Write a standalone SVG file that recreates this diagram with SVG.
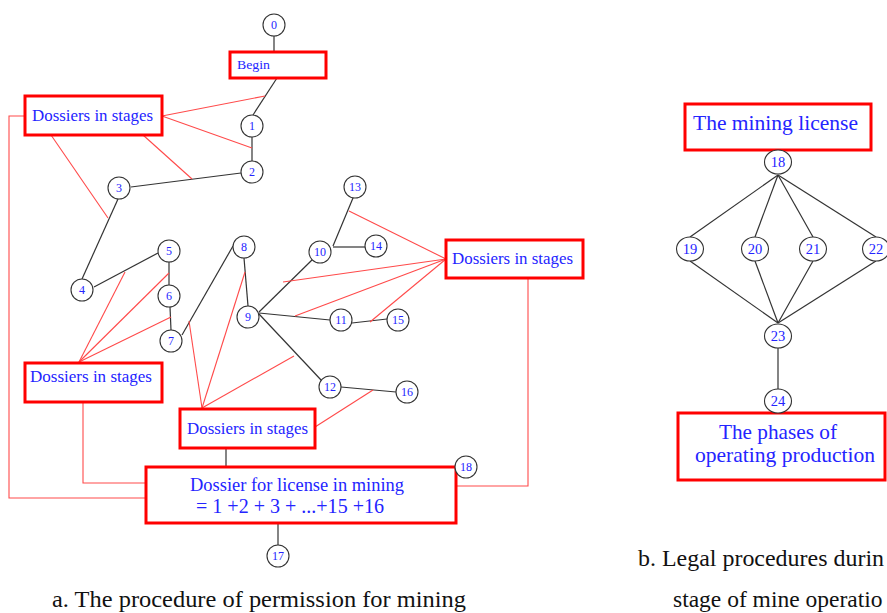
<svg xmlns="http://www.w3.org/2000/svg" width="887" height="613" viewBox="0 0 887 613">
<style>
.box{fill:#fff;stroke:#ff0000;stroke-width:3}
.nd{fill:#fff;stroke:#333;stroke-width:1.1}
.blk{stroke:#333;stroke-width:1.2;fill:none}
.red{stroke:#ff4a4a;stroke-width:1.1;fill:none}
.t{font-family:"Liberation Serif","Times New Roman",serif;fill:#2424ff}
.n{font-family:"Liberation Serif","Times New Roman",serif;fill:#2424ff;font-size:12px;text-anchor:middle}
.nr{font-family:"Liberation Serif","Times New Roman",serif;fill:#2424ff;font-size:14.5px;text-anchor:middle}
.cap{font-family:"Liberation Serif","Times New Roman",serif;fill:#111;font-size:23.5px}
</style>
<rect width="887" height="613" fill="#fff"/>
<g id="connectors">
  <line class="blk" x1="274" y1="36" x2="274" y2="52"/>
  <line class="blk" x1="277" y1="78" x2="253" y2="115"/>
  <line class="blk" x1="252" y1="137" x2="252" y2="161"/>
  <line class="blk" x1="241" y1="173" x2="131" y2="187"/>
  <line class="blk" x1="118" y1="199" x2="82" y2="279"/>
  <line class="blk" x1="94" y1="287" x2="158" y2="253"/>
  <line class="blk" x1="169" y1="262" x2="169" y2="285"/>
  <line class="blk" x1="170" y1="307" x2="171" y2="330"/>
  <line class="blk" x1="182" y1="335" x2="233" y2="246"/>
  <line class="blk" x1="244" y1="258" x2="248" y2="306"/>
  <line class="blk" x1="259" y1="312" x2="313" y2="259"/>
  <line class="blk" x1="333" y1="246" x2="353" y2="198"/>
  <line class="blk" x1="333" y1="247" x2="365" y2="247"/>
  <line class="blk" x1="259" y1="313" x2="330" y2="320"/>
  <line class="blk" x1="352" y1="323" x2="387" y2="319"/>
  <line class="blk" x1="259" y1="314" x2="322" y2="381"/>
  <line class="blk" x1="341" y1="387" x2="396" y2="392"/>
  <line class="blk" x1="226" y1="448" x2="226" y2="467"/>
  <line class="blk" x1="278" y1="523" x2="278" y2="545"/>
  <line class="blk" x1="778" y1="175" x2="690" y2="237"/>
  <line class="blk" x1="778" y1="175" x2="755" y2="237"/>
  <line class="blk" x1="778" y1="175" x2="813" y2="237"/>
  <line class="blk" x1="778" y1="175" x2="876" y2="237"/>
  <line class="blk" x1="690" y1="261" x2="778" y2="323"/>
  <line class="blk" x1="755" y1="261" x2="778" y2="323"/>
  <line class="blk" x1="813" y1="261" x2="778" y2="323"/>
  <line class="blk" x1="876" y1="261" x2="778" y2="323"/>
  <line class="blk" x1="778" y1="348" x2="778" y2="389"/>
  <line class="red" x1="162" y1="116" x2="265" y2="96"/>
  <line class="red" x1="162" y1="116" x2="252" y2="148"/>
  <line class="red" x1="143" y1="135" x2="192" y2="179"/>
  <line class="red" x1="51" y1="135" x2="108" y2="218"/>
  <polyline class="red" points="25,116 9,116 9,498 146,498"/>
  <line class="red" x1="79" y1="362" x2="125" y2="272"/>
  <line class="red" x1="79" y1="362" x2="169" y2="273"/>
  <line class="red" x1="79" y1="362" x2="171" y2="317"/>
  <polyline class="red" points="83,402 83,483 146,483"/>
  <line class="red" x1="202" y1="408" x2="189" y2="321"/>
  <line class="red" x1="202" y1="408" x2="245" y2="272"/>
  <line class="red" x1="202" y1="408" x2="294" y2="356"/>
  <line class="red" x1="315" y1="427" x2="373" y2="390"/>
  <line class="red" x1="446" y1="259" x2="349" y2="211"/>
  <line class="red" x1="446" y1="259" x2="283" y2="282"/>
  <line class="red" x1="446" y1="259" x2="295" y2="316"/>
  <line class="red" x1="446" y1="259" x2="370" y2="322"/>
  <polyline class="red" points="528,278 528,486 456,486"/>
</g>
<g id="box-begin"><rect class="box" x="230" y="52" width="96" height="26" stroke-width="2.5"/><text class="t" x="237" y="69" font-size="13" textLength="33" lengthAdjust="spacingAndGlyphs">Begin</text></g>
<g id="box-stages-1"><rect class="box" x="25" y="96" width="137" height="39"/><text class="t" x="32" y="121" font-size="17" textLength="121" lengthAdjust="spacingAndGlyphs">Dossiers in stages</text></g>
<g id="box-stages-2"><rect class="box" x="25" y="363" width="137" height="39"/><text class="t" x="30" y="382" font-size="17" textLength="122" lengthAdjust="spacingAndGlyphs">Dossiers in stages</text></g>
<g id="box-stages-3"><rect class="box" x="180" y="409" width="135" height="39"/><text class="t" x="187" y="434" font-size="17" textLength="121" lengthAdjust="spacingAndGlyphs">Dossiers in stages</text></g>
<g id="box-stages-4"><rect class="box" x="446" y="240" width="137" height="38"/><text class="t" x="452" y="264" font-size="17" textLength="121" lengthAdjust="spacingAndGlyphs">Dossiers in stages</text></g>
<g id="box-license-dossier"><rect class="box" x="146" y="467" width="310" height="56"/>
<text class="t" x="190" y="491" font-size="18" textLength="214" lengthAdjust="spacingAndGlyphs">Dossier for license in mining</text>
<text class="t" x="196" y="513" font-size="20" textLength="188" lengthAdjust="spacingAndGlyphs">= 1 +2 + 3 + ...+15 +16</text></g>
<g id="n0"><circle class="nd" cx="274" cy="25" r="11"/><text class="n" x="274" y="29">0</text></g>
<g id="n1"><circle class="nd" cx="252" cy="126" r="11"/><text class="n" x="252" y="130">1</text></g>
<g id="n2"><circle class="nd" cx="252" cy="172" r="11"/><text class="n" x="252" y="176">2</text></g>
<g id="n3"><circle class="nd" cx="119" cy="188" r="11"/><text class="n" x="119" y="192">3</text></g>
<g id="n4"><circle class="nd" cx="82" cy="290" r="11"/><text class="n" x="82" y="294">4</text></g>
<g id="n5"><circle class="nd" cx="169" cy="251" r="11"/><text class="n" x="169" y="255">5</text></g>
<g id="n6"><circle class="nd" cx="169" cy="296" r="11"/><text class="n" x="169" y="300">6</text></g>
<g id="n7"><circle class="nd" cx="171" cy="341" r="11"/><text class="n" x="171" y="345">7</text></g>
<g id="n8"><circle class="nd" cx="244" cy="247" r="11"/><text class="n" x="244" y="251">8</text></g>
<g id="n9"><circle class="nd" cx="248" cy="317" r="11"/><text class="n" x="248" y="321">9</text></g>
<g id="n10"><circle class="nd" cx="320" cy="252" r="11"/><text class="n" x="320" y="256">10</text></g>
<g id="n11"><circle class="nd" cx="341" cy="320" r="11"/><text class="n" x="341" y="324">11</text></g>
<g id="n12"><circle class="nd" cx="330" cy="387" r="11"/><text class="n" x="330" y="391">12</text></g>
<g id="n13"><circle class="nd" cx="355" cy="187" r="11"/><text class="n" x="355" y="191">13</text></g>
<g id="n14"><circle class="nd" cx="376" cy="246" r="11"/><text class="n" x="376" y="250">14</text></g>
<g id="n15"><circle class="nd" cx="398" cy="320" r="11"/><text class="n" x="398" y="324">15</text></g>
<g id="n16"><circle class="nd" cx="407" cy="392" r="11"/><text class="n" x="407" y="396">16</text></g>
<g id="n17"><circle class="nd" cx="278" cy="556" r="11"/><text class="n" x="278" y="560">17</text></g>
<g id="n18a"><circle class="nd" cx="466" cy="467" r="11"/><text class="n" x="466" y="471">18</text></g>
<g id="box-mining-license"><rect class="box" x="685" y="104" width="186" height="46"/><text class="t" x="693" y="130" font-size="21.5" textLength="165" lengthAdjust="spacingAndGlyphs">The mining license</text></g>
<g id="box-phases"><rect class="box" x="678" y="413" width="207" height="67"/>
<text class="t" x="719" y="439" font-size="21.5" textLength="118" lengthAdjust="spacingAndGlyphs">The phases of</text>
<text class="t" x="695" y="462" font-size="21.5" textLength="180" lengthAdjust="spacingAndGlyphs">operating production</text></g>
<g id="n18"><ellipse class="nd" cx="778" cy="162" rx="13.5" ry="12"/><text class="nr" x="778" y="167">18</text></g>
<g id="n19"><ellipse class="nd" cx="690" cy="249" rx="13.5" ry="12"/><text class="nr" x="690" y="254">19</text></g>
<g id="n20"><ellipse class="nd" cx="755" cy="249" rx="13.5" ry="12"/><text class="nr" x="755" y="254">20</text></g>
<g id="n21"><ellipse class="nd" cx="813" cy="249" rx="13.5" ry="12"/><text class="nr" x="813" y="254">21</text></g>
<g id="n22"><ellipse class="nd" cx="876" cy="249" rx="13.5" ry="12"/><text class="nr" x="876" y="254">22</text></g>
<g id="n23"><ellipse class="nd" cx="778" cy="336" rx="13.5" ry="12"/><text class="nr" x="778" y="341">23</text></g>
<g id="n24"><ellipse class="nd" cx="778" cy="401" rx="13.5" ry="12"/><text class="nr" x="778" y="406">24</text></g>
<g id="captions">
<text class="cap" x="52" y="607" textLength="414" lengthAdjust="spacingAndGlyphs">a. The procedure of permission for mining</text>
<text class="cap" x="638" y="566" textLength="246" lengthAdjust="spacingAndGlyphs">b. Legal procedures durin</text>
<text class="cap" x="673" y="607">stage of mine operatio</text>
</g>
</svg>
